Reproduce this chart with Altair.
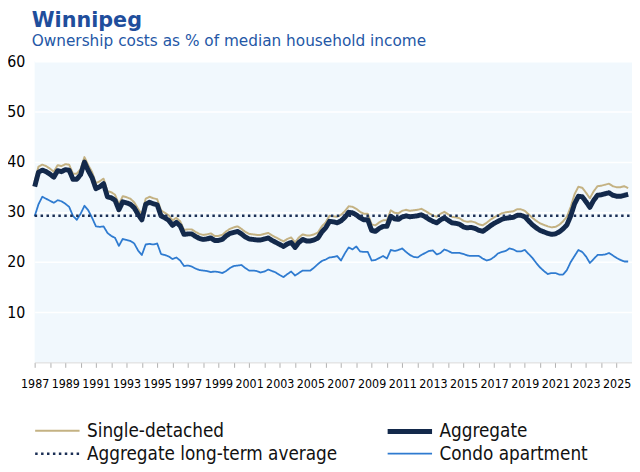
import altair as alt
import pandas as pd

# Quarterly data, 1987Q1 .. 2025Q4
start_year = 1987
aggregate = [
    35.0, 37.9, 38.3, 38.0,
    37.5, 36.9, 38.2, 38.0,
    38.4, 38.3, 36.5, 36.5,
    37.4, 39.9, 38.2, 36.8,
    34.6, 35.0, 35.6, 33.0,
    32.8, 32.3, 30.4, 32.0,
    31.8, 31.5, 30.8, 29.5,
    28.4, 31.5, 31.9, 31.6,
    31.4, 29.2, 28.8, 28.3,
    27.3, 27.9, 27.2, 25.5,
    25.6, 25.6, 25.1, 24.7,
    24.5, 24.6, 24.8, 24.3,
    24.3, 24.5, 25.2, 25.7,
    25.9, 26.1, 25.6, 25.0,
    24.6, 24.5, 24.4, 24.4,
    24.6, 24.8, 24.3, 23.9,
    23.5, 23.1, 23.6, 23.9,
    22.9, 23.9, 24.5, 24.2,
    24.2, 24.4, 24.8, 26.0,
    26.8, 28.1, 28.0, 27.8,
    28.2, 28.9, 29.9, 29.8,
    29.4, 28.8, 28.4, 28.4,
    26.3, 26.1, 26.7, 27.1,
    27.1, 29.1, 28.6, 28.5,
    29.0, 29.2, 29.0, 29.1,
    29.2, 29.4, 29.0, 28.5,
    28.1, 27.8, 28.4, 28.8,
    28.3, 27.8, 27.7, 27.5,
    27.0, 26.8, 26.9, 26.7,
    26.3, 26.1, 26.6, 27.2,
    27.7, 28.1, 28.5, 28.7,
    28.8, 28.9, 29.3, 29.3,
    29.0, 28.2, 27.4, 26.8,
    26.3, 26.0, 25.7, 25.5,
    25.6, 26.0, 26.6, 27.4,
    29.2, 31.6, 33.1, 33.0,
    32.0, 30.9, 32.3, 33.3,
    33.4, 33.6, 33.8, 33.3,
    33.1, 33.1, 33.3, 33.5,
]
single_detached = [
    36.0, 39.0, 39.4, 39.1,
    38.6, 38.0, 39.3, 39.1,
    39.5, 39.4, 37.6, 37.6,
    38.5, 40.9, 39.3, 37.9,
    35.7, 36.1, 36.6, 34.1,
    33.9, 33.4, 31.5, 33.1,
    32.9, 32.6, 31.9, 30.6,
    29.5, 32.6, 33.0, 32.7,
    32.5, 30.3, 29.8, 29.3,
    28.3, 28.8, 28.1, 26.4,
    26.5, 26.5, 26.0, 25.6,
    25.4, 25.5, 25.7, 25.2,
    25.2, 25.4, 26.1, 26.6,
    26.9, 27.1, 26.6, 26.0,
    25.6, 25.5, 25.4, 25.4,
    25.6, 25.8, 25.3, 24.9,
    24.5, 24.1, 24.6, 24.9,
    23.9, 24.9, 25.5, 25.3,
    25.3, 25.5, 25.9, 27.1,
    27.9, 29.2, 29.1, 29.0,
    29.4, 30.1, 31.1, 31.0,
    30.6, 30.0, 29.6, 29.6,
    27.5, 27.3, 27.9, 28.3,
    28.3, 30.3, 29.8, 29.7,
    30.2, 30.4, 30.2, 30.3,
    30.4, 30.6, 30.2, 29.7,
    29.3, 29.0, 29.6, 30.0,
    29.5, 29.0, 28.9, 28.7,
    28.2, 28.0, 28.1, 27.9,
    27.5, 27.3, 27.8, 28.4,
    28.9, 29.3, 29.7, 29.9,
    30.0, 30.1, 30.5, 30.5,
    30.2, 29.5, 28.8, 28.2,
    27.7, 27.4, 27.1, 26.9,
    27.0, 27.4, 28.1, 29.0,
    31.0, 33.5, 35.0, 34.8,
    33.8, 32.7, 34.1, 35.1,
    35.2, 35.4, 35.6, 35.1,
    34.9, 34.9, 35.1, 34.7,
]
condo = [
    29.1, 31.5, 33.0, 32.6,
    32.2, 31.8, 32.3, 32.1,
    31.6, 31.0, 29.2, 28.4,
    29.6, 31.2, 30.3, 28.8,
    27.1, 27.0, 27.1, 25.8,
    25.2, 24.8, 23.2, 24.6,
    24.4, 24.2, 23.7, 22.3,
    21.4, 23.5, 23.6, 23.5,
    23.7, 21.6, 21.4, 21.1,
    20.6, 20.9, 20.3, 19.2,
    19.3, 19.1, 18.7, 18.4,
    18.3, 18.2, 18.0, 18.1,
    18.0, 17.8, 18.2, 18.8,
    19.2, 19.3, 19.4, 18.8,
    18.3, 18.3, 18.2, 17.9,
    18.1, 18.5, 18.2, 17.9,
    17.4, 17.0, 17.6, 18.1,
    17.3, 17.8, 18.3, 18.3,
    18.3, 18.9, 19.6, 20.2,
    20.5, 20.9, 21.0, 21.2,
    20.3, 21.7, 22.9, 22.5,
    23.1, 22.1, 22.0, 22.0,
    20.3, 20.4, 20.8, 21.2,
    20.7, 22.4, 22.2, 22.4,
    22.7, 22.0, 21.4, 21.0,
    20.9, 21.4, 21.8, 22.2,
    22.3, 21.5, 21.8, 22.5,
    22.2, 21.8, 21.8, 21.8,
    21.6, 21.3, 21.2, 21.2,
    21.2, 20.7, 20.3, 20.5,
    21.0, 21.7, 22.0, 22.2,
    22.7, 22.5, 22.1, 22.1,
    22.4, 21.6, 20.8, 19.8,
    18.9, 18.2, 17.6, 17.8,
    17.8, 17.5, 17.5, 18.4,
    20.0, 21.2, 22.4, 22.0,
    21.1, 19.8, 20.6, 21.4,
    21.4, 21.5, 21.8, 21.3,
    20.8, 20.4, 20.1, 20.1,
]
long_term_average = 29.2
x_domain = [1987, 2026]

# legend order (column-major: column 1 = first two, column 2 = last two)
series_names = ["Single-detached", "Aggregate long-term average", "Aggregate", "Condo apartment"]
series_colors = ["#c4b283", "#1b2f55", "#13294b", "#2f7bd0"]
series_widths = [2, 2.5, 5, 1.8]
series_dashes = [[1, 0], [2.5, 3.5], [1, 0], [1, 0]]

years = [start_year + i / 4 for i in range(len(aggregate))]
rows = []
for name, vals in [("Condo apartment", condo), ("Single-detached", single_detached), ("Aggregate", aggregate)]:
    for y, v in zip(years, vals):
        rows.append({"year": y, "value": v, "series": name})
for y in x_domain:
    rows.append({"year": y, "value": long_term_average, "series": "Aggregate long-term average"})
df = pd.DataFrame(rows)

FONT = "DejaVu Sans Condensed"

chart = alt.Chart(df).mark_line(strokeCap="butt", strokeJoin="round").encode(
    x=alt.X("year:Q", scale=alt.Scale(domain=x_domain, nice=False, zero=False),
            axis=alt.Axis(values=list(range(1987, 2026)), format="d", title=None,
                          labelExpr="datum.value % 2 == 1 ? datum.label : ''",
                          grid=False, tickSize=5, tickColor="#b0b0b0", domainColor="#d8d8d8",
                          labelFontSize=12.5, labelFont=FONT, labelColor="#000000",
                          labelPadding=10, labelOverlap=False, labelFlush=False)),
    y=alt.Y("value:Q", scale=alt.Scale(domain=[0, 60], nice=False),
            axis=alt.Axis(values=[10, 20, 30, 40, 50, 60], title=None, domain=False, ticks=False,
                          grid=True, gridColor="#ffffff", gridWidth=1.5,
                          labelFontSize=16, labelFont=FONT, labelColor="#000000", labelPadding=10)),
    color=alt.Color("series:N", scale=alt.Scale(domain=series_names, range=series_colors), title=None),
    strokeWidth=alt.StrokeWidth("series:N", scale=alt.Scale(type="ordinal", domain=series_names, range=series_widths), title=None),
    strokeDash=alt.StrokeDash("series:N", scale=alt.Scale(domain=series_names, range=series_dashes), title=None),
    detail="series:N",
    order=alt.Order("year:Q"),
).properties(
    width=605,
    height=305,
    padding={"left": 27, "top": 51, "right": 0, "bottom": 100},
    autosize=alt.AutoSizeParams(type="none"),
    title=alt.TitleParams(
        text="Winnipeg",
        subtitle="Ownership costs as % of median household income",
        anchor="start", frame="group", dx=-3, offset=4,
        font="DejaVu Sans", fontSize=21, fontWeight="bold", color="#1f4e9c",
        subtitleFont="DejaVu Sans", subtitleFontSize=15.5, subtitleColor="#2457a6", subtitlePadding=3,
    ),
).configure_view(
    fill="#f1f8fd", stroke=None
).configure_legend(
    orient="none", legendX=9, legendY=361, columns=2, symbolType="M-2,0H2", symbolSize=506,
    labelFontSize=19, labelFont=FONT, labelColor="#111111", labelOffset=16, columnPadding=40,
    rowPadding=0, labelLimit=400
)

chart.save("out.html", embed_options={"renderer": "svg", "actions": False})
